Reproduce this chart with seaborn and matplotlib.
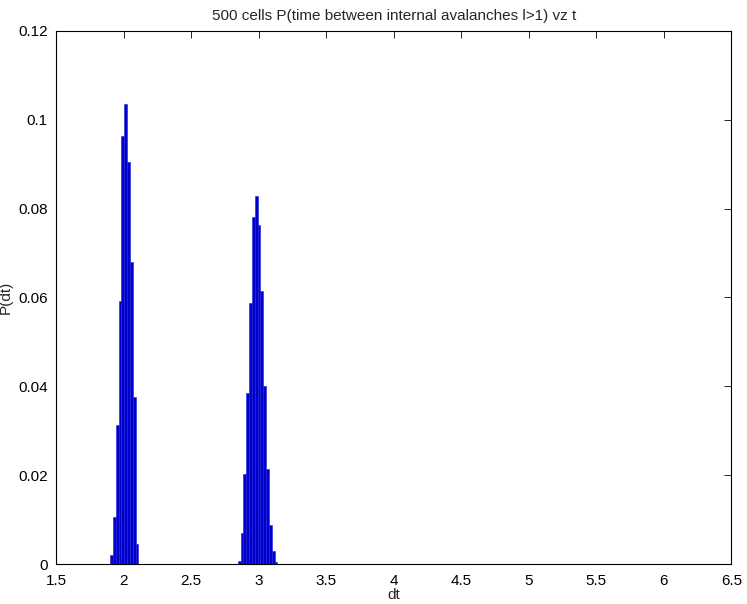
import numpy as np
import pandas as pd
import matplotlib
matplotlib.use("Agg")
import matplotlib.pyplot as plt
import seaborn as sns

########################################################################
# data: histogram of dt, 200 bins from 1.9 to 6.1
########################################################################
bin_lo = 1.9
bin_hi = 6.1
n_bins = 200

# first peak (around dt=2), bins 0..9
peak1_first_bin = 0
peak1_p = [0.0020, 0.0105, 0.0312, 0.0593, 0.0964, 0.1035, 0.0905, 0.0679, 0.0375, 0.0045]

# second peak (around dt=3), bins 45..58
peak2_first_bin = 45
peak2_p = [0.0008, 0.0069, 0.0202, 0.0384, 0.0587, 0.0782, 0.0828,
           0.0764, 0.0615, 0.0401, 0.0213, 0.0089, 0.0029, 0.0004]

x_ticks = [1.5, 2, 2.5, 3, 3.5, 4, 4.5, 5, 5.5, 6, 6.5]
y_ticks = [0, 0.02, 0.04, 0.06, 0.08, 0.1, 0.12]

########################################################################
# build the table of bins
########################################################################
edges = np.linspace(bin_lo, bin_hi, n_bins + 1)
centers = (edges[:-1] + edges[1:]) / 2
p = np.zeros(n_bins)
p[peak1_first_bin:peak1_first_bin + len(peak1_p)] = peak1_p
p[peak2_first_bin:peak2_first_bin + len(peak2_p)] = peak2_p
df = pd.DataFrame({"dt": centers, "p": p})

########################################################################
# plot
########################################################################
sns.set_style("white")
plt.rcParams["font.family"] = ["Liberation Sans", "DejaVu Sans"]

fig = plt.figure(figsize=(7.47, 6.04), dpi=100)
ax = fig.add_axes([0.075, 0.066, 0.904, 0.883])

sns.histplot(data=df, x="dt", weights="p", bins=n_bins, binrange=(bin_lo, bin_hi),
             stat="count", color="#0000cc", edgecolor="#2020d8", linewidth=0.4,
             alpha=1, ax=ax, zorder=3)

ax.set_xlim(1.5, 6.5)
ax.set_ylim(0, 0.12)
ax.set_xticks(x_ticks)
ax.set_xticklabels([f"{t:g}" for t in x_ticks])
ax.set_yticks(y_ticks)
ax.set_yticklabels([f"{t:g}" for t in y_ticks])
ax.tick_params(direction="in", length=5, width=0.6, top=True, right=True,
               labelsize=11, colors="black")
ax.tick_params(axis="x", pad=7)
ax.tick_params(axis="y", pad=6)
for s in ax.spines.values():
    s.set_color("black")
    s.set_linewidth(0.8)

ax.set_xlabel("dt", fontsize=11, labelpad=0)
ax.set_ylabel("P(dt)", fontsize=11, labelpad=4)
ax.set_title("500 cells P(time between internal avalanches l>1) vz t", fontsize=11, pad=8)

fig.savefig("out.png", dpi=100)
